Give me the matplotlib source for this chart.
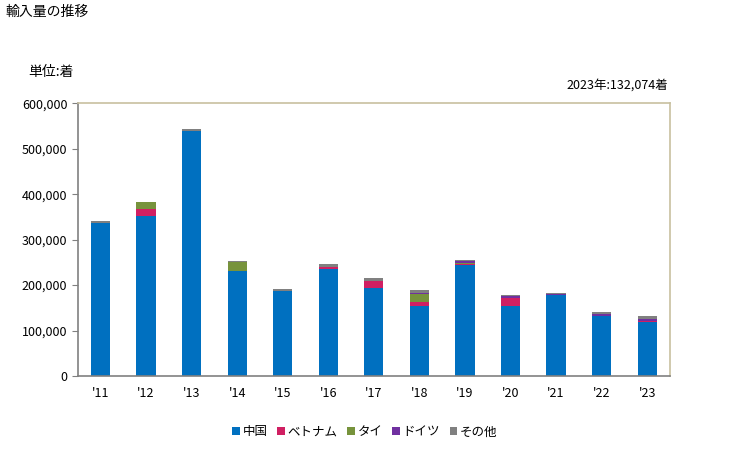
import numpy as np
import matplotlib.pyplot as plt

plt.rcParams['font.family'] = ['Noto Sans CJK JP', 'DejaVu Sans']

years = ["'11", "'12", "'13", "'14", "'15", "'16", "'17", "'18", "'19", "'20", "'21", "'22", "'23"]
series = ['中国', 'ベトナム', 'タイ', 'ドイツ', 'その他']
china = [336000, 352300, 540000, 231400, 186800, 234500, 194100, 154500, 244600, 154500, 178700, 131900, 119500]
vietnam = [0, 14700, 0, 0, 0, 5100, 14700, 8800, 2200, 16900, 0, 0, 1500]
thai = [0, 15400, 0, 19100, 0, 0, 0, 17600, 1000, 0, 0, 0, 0]
germany = [0, 0, 0, 0, 0, 0, 0, 2200, 4400, 4400, 2000, 4400, 4400]
other = [4000, 1500, 4400, 2000, 4400, 6600, 6600, 5900, 2200, 2200, 2000, 4400, 6674]
colors = ['#0070C0', '#D01F62', '#77933C', '#7030A0', '#808080']

fig = plt.figure(figsize=(7.29, 4.5), dpi=100)
ax = fig.add_axes([0.1066, 0.1644, 0.8124, 0.606])

x = np.arange(len(years))
bottom = np.zeros(len(years))
for name, vals, c in zip(series, [china, vietnam, thai, germany, other], colors):
    ax.bar(x, vals, 0.42, bottom=bottom, color=c, label=name)
    bottom += np.array(vals)

ax.set_xlim(-0.5, len(years) - 0.5)
ax.set_ylim(0, 600000)
ax.set_yticks(np.arange(0, 600001, 100000))
ax.set_yticklabels([f'{v:,}' for v in range(0, 600001, 100000)])
ax.set_xticks(x)
ax.set_xticklabels(years)
ax.tick_params(axis='y', length=4, color='#808080', labelsize=9)
ax.tick_params(axis='x', length=0, labelsize=9, pad=8)
for s in ['left', 'bottom']:
    ax.spines[s].set_color('#808080')
    ax.spines[s].set_linewidth(1.2)
for s in ['top', 'right']:
    ax.spines[s].set_color('#C8C0A0')
    ax.spines[s].set_linewidth(1.2)

fig.text(5 / 729, 1 - 12 / 450, '輸入量の推移', fontsize=10, va='center', ha='left')
fig.text(28 / 729, 1 - 72 / 450, '単位:着', fontsize=10, va='center', ha='left')
fig.text(668 / 729, 1 - 85 / 450, '2023年:132,074着', fontsize=9, va='center', ha='right')

ax.legend(loc='center', bbox_to_anchor=(0.485, -0.205), ncol=5, frameon=False,
          fontsize=9, handlelength=0.6, handleheight=0.6, handletextpad=0.2, columnspacing=0.8)

fig.savefig('out.png', dpi=100)
